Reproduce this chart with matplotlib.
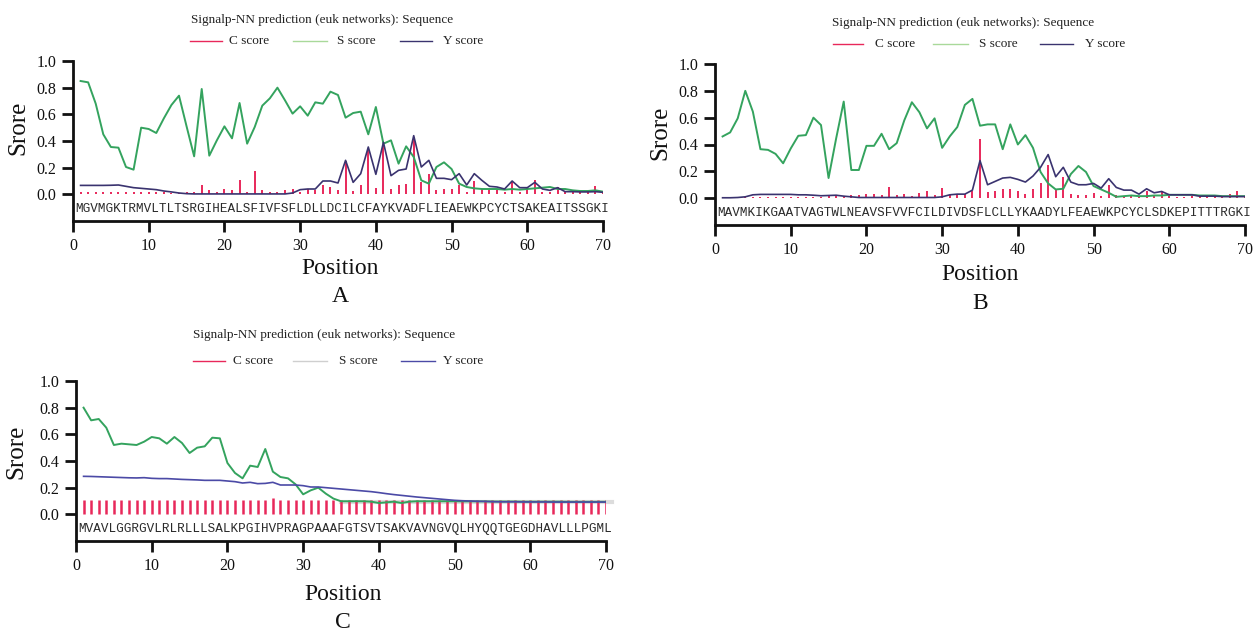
import matplotlib
matplotlib.use('Agg')
import matplotlib.pyplot as plt
from matplotlib.lines import Line2D
import numpy as np

plt.rcParams['font.family'] = ['Liberation Serif', 'DejaVu Serif']

# ---------------- data ----------------
positions = list(range(1, 71))
x_ticks = [0, 10, 20, 30, 40, 50, 60, 70]
y_ticks = [0.0, 0.2, 0.4, 0.6, 0.8, 1.0]
y_tick_labels = ['0.0', '0.2', '0.4', '0.6', '0.8', '1.0']

title_text = 'Signalp-NN prediction (euk networks): Sequence'
legend_labels = ['C score', 'S score', 'Y score']
panel_letters = ['A', 'B', 'C']

seq_A = 'MGVMGKTRMVLTLTSRGIHEALSFIVFSFLDLLDCILCFAYKVADFLIEAEWKPCYCTSAKEAITSSGKI'
seq_B = 'MAVMKIKGAATVAGTWLNEAVSFVVFCILDIVDSFLCLLYKAADYLFEAEWKPCYCLSDKEPITTTRGKI'
seq_C = 'MVAVLGGRGVLRLRLLLSALKPGIHVPRAGPAAAFGTSVTSAKVAVNGVQLHYQQTGEGDHAVLLLPGML'

C_A = [0.015, 0.02, 0.015, 0.02, 0.015, 0.02, 0.015, 0.02, 0.015, 0.02,
       0.015, 0.015, 0.01, 0.01, 0.015, 0.02, 0.07, 0.03, 0.02, 0.04,
       0.03, 0.11, 0.02, 0.175, 0.03, 0.02, 0.02, 0.03, 0.04, 0.02,
       0.04, 0.03, 0.07, 0.055, 0.03, 0.25, 0.025, 0.07, 0.34, 0.05,
       0.37, 0.04, 0.07, 0.08, 0.43, 0.09, 0.155, 0.03, 0.04, 0.04,
       0.07, 0.02, 0.10, 0.04, 0.03, 0.03, 0.02, 0.10, 0.02, 0.05,
       0.11, 0.02, 0.02, 0.055, 0.02, 0.02, 0.02, 0.02, 0.06, 0.015]
S_A = [0.85, 0.84, 0.68, 0.45, 0.355, 0.35, 0.205, 0.185, 0.50, 0.49,
       0.46, 0.57, 0.67, 0.74, 0.51, 0.285, 0.79, 0.29, 0.405, 0.51,
       0.42, 0.685, 0.38, 0.505, 0.665, 0.72, 0.80, 0.705, 0.605, 0.66,
       0.59, 0.69, 0.68, 0.77, 0.745, 0.575, 0.61, 0.62, 0.45, 0.655,
       0.38, 0.405, 0.23, 0.36, 0.28, 0.105, 0.08, 0.205, 0.24, 0.19,
       0.08, 0.055, 0.045, 0.04, 0.04, 0.04, 0.035, 0.04, 0.035, 0.04,
       0.045, 0.05, 0.055, 0.04, 0.04, 0.03, 0.025, 0.025, 0.03, 0.02]
Y_A = [0.067, 0.067, 0.067, 0.067, 0.068, 0.07, 0.06, 0.05, 0.045, 0.04,
       0.035, 0.025, 0.018, 0.01, 0.005, 0.003, 0.003, 0.003, 0.003, 0.003,
       0.003, 0.003, 0.003, 0.003, 0.003, 0.003, 0.003, 0.003, 0.01, 0.035,
       0.04, 0.04, 0.10, 0.10, 0.085, 0.255, 0.09, 0.155, 0.355, 0.15,
       0.39, 0.14, 0.18, 0.19, 0.44, 0.205, 0.255, 0.12, 0.12, 0.11,
       0.155, 0.07, 0.155, 0.105, 0.06, 0.055, 0.04, 0.10, 0.05, 0.05,
       0.09, 0.04, 0.03, 0.05, 0.02, 0.02, 0.018, 0.018, 0.02, 0.015]

C_B = [0.005, 0.005, 0.005, 0.008, 0.01, 0.01, 0.008, 0.01, 0.008, 0.01,
       0.008, 0.01, 0.008, 0.01, 0.02, 0.015, 0.01, 0.025, 0.025, 0.03,
       0.03, 0.02, 0.08, 0.02, 0.03, 0.015, 0.04, 0.055, 0.02, 0.075,
       0.02, 0.03, 0.03, 0.05, 0.44, 0.045, 0.05, 0.065, 0.065, 0.05,
       0.03, 0.065, 0.11, 0.25, 0.065, 0.155, 0.03, 0.025, 0.025, 0.04,
       0.015, 0.095, 0.025, 0.015, 0.015, 0.015, 0.05, 0.015, 0.05, 0.015,
       0.01, 0.01, 0.015, 0.02, 0.01, 0.01, 0.015, 0.03, 0.05, 0.01]
S_B = [0.46, 0.49, 0.595, 0.80, 0.645, 0.365, 0.36, 0.33, 0.26, 0.37,
       0.465, 0.47, 0.60, 0.545, 0.15, 0.445, 0.72, 0.21, 0.21, 0.39,
       0.39, 0.48, 0.365, 0.41, 0.58, 0.715, 0.64, 0.52, 0.595, 0.375,
       0.46, 0.53, 0.695, 0.74, 0.54, 0.55, 0.55, 0.365, 0.55, 0.40,
       0.47, 0.375, 0.195, 0.11, 0.065, 0.07, 0.18, 0.24, 0.195, 0.09,
       0.065, 0.04, 0.01, 0.015, 0.02, 0.015, 0.015, 0.02, 0.02, 0.025,
       0.025, 0.025, 0.025, 0.02, 0.02, 0.02, 0.015, 0.015, 0.015, 0.015]
Y_B = [0.003, 0.003, 0.005, 0.01, 0.025, 0.028, 0.028, 0.028, 0.028, 0.028,
       0.025, 0.025, 0.022, 0.018, 0.02, 0.022, 0.015, 0.01, 0.005, 0.005,
       0.005, 0.005, 0.005, 0.005, 0.005, 0.005, 0.005, 0.005, 0.005, 0.01,
       0.025, 0.03, 0.03, 0.06, 0.28, 0.10, 0.125, 0.15, 0.155, 0.14,
       0.12, 0.165, 0.23, 0.325, 0.16, 0.23, 0.12, 0.10, 0.10, 0.11,
       0.075, 0.145, 0.08, 0.06, 0.06, 0.03, 0.07, 0.04, 0.05, 0.025,
       0.025, 0.025, 0.025, 0.015, 0.015, 0.015, 0.012, 0.012, 0.012, 0.012]

C_C = [0.105, 0.105, 0.105, 0.105, 0.105, 0.105, 0.105, 0.105, 0.11, 0.105,
       0.105, 0.105, 0.105, 0.105, 0.105, 0.105, 0.105, 0.105, 0.105, 0.105,
       0.105, 0.105, 0.105, 0.105, 0.105, 0.12, 0.105, 0.105, 0.11, 0.11,
       0.105, 0.105, 0.105, 0.105, 0.105, 0.105, 0.105, 0.105, 0.105, 0.105,
       0.105, 0.105, 0.105, 0.105, 0.105, 0.105, 0.105, 0.105, 0.105, 0.105,
       0.105, 0.105, 0.105, 0.105, 0.105, 0.105, 0.105, 0.105, 0.105, 0.105,
       0.105, 0.105, 0.105, 0.105, 0.105, 0.105, 0.105, 0.105, 0.105, 0.105]
S_C = [0.80, 0.705, 0.715, 0.65, 0.52, 0.53, 0.525, 0.52, 0.545, 0.58,
       0.57, 0.53, 0.58, 0.535, 0.46, 0.50, 0.51, 0.575, 0.57, 0.385,
       0.31, 0.27, 0.365, 0.355, 0.49, 0.32, 0.28, 0.27, 0.225, 0.15,
       0.18, 0.20, 0.155, 0.118, 0.098, 0.098, 0.098, 0.098, 0.095, 0.085,
       0.09, 0.095, 0.085, 0.095, 0.098, 0.098, 0.098, 0.098, 0.098, 0.098,
       0.097, 0.097, 0.097, 0.097, 0.096, 0.096, 0.096, 0.096, 0.095, 0.095,
       0.095, 0.095, 0.095, 0.095, 0.094, 0.094, 0.094, 0.094, 0.094, 0.094]
Y_C = [0.285, 0.284, 0.282, 0.28, 0.278, 0.276, 0.274, 0.273, 0.275, 0.27,
       0.268, 0.268, 0.265, 0.262, 0.26, 0.258, 0.255, 0.255, 0.255, 0.25,
       0.245, 0.235, 0.24, 0.23, 0.232, 0.24, 0.22, 0.22, 0.22, 0.215,
       0.205, 0.205, 0.20, 0.195, 0.19, 0.185, 0.18, 0.175, 0.17, 0.163,
       0.155, 0.148, 0.142, 0.136, 0.13, 0.125, 0.12, 0.115, 0.11, 0.105,
       0.102, 0.10, 0.098, 0.097, 0.095, 0.094, 0.094, 0.094, 0.093, 0.093,
       0.093, 0.093, 0.092, 0.092, 0.092, 0.092, 0.092, 0.092, 0.092, 0.092]

# ---------------- style / layout ----------------
W, H = 1256, 630
RED = '#e8285a'
GREEN = '#34a35e'
NAVY = '#3a336f'
BLUE = '#4b4aa6'
LEG_S_GREEN = '#a9d99a'
LEG_S_GREY = '#cfcfcf'

def fx(px):
    return px / W

def fy(py):
    return 1 - py / H

panels = [
    dict(seq=seq_A, C=C_A, S=S_A, Y=Y_A, left=73, right=603, top=61, bottom=221,
         title=(322, 20), leg_y=41, leg=[(190, 222, 229), (293, 327, 337), (400, 432, 443)],
         xlab=(340, 269), letter=(340, 297), ylab=(18, 128), ycol=NAVY, scol=LEG_S_GREEN, lw_bar=1.4),
    dict(seq=seq_B, C=C_B, S=S_B, Y=Y_B, left=715, right=1245, top=64, bottom=225,
         title=(963, 23), leg_y=44, leg=[(833, 863, 875), (933, 968, 979), (1040, 1073, 1085)],
         xlab=(980, 275), letter=(980, 303), ylab=(660, 133), ycol=NAVY, scol=LEG_S_GREEN, lw_bar=1.4),
    dict(seq=seq_C, C=C_C, S=S_C, Y=Y_C, left=76, right=606, top=381, bottom=541,
         title=(324, 335), leg_y=361, leg=[(193, 225, 233), (293, 327, 339), (401, 435, 443)],
         xlab=(343, 594), letter=(343, 622), ylab=(16, 452), ycol=BLUE, scol=LEG_S_GREY, lw_bar=1.8),
]

fig = plt.figure(figsize=(W / 100, H / 100), dpi=100)

for k, p in enumerate(panels):
    ax = fig.add_axes([fx(p['left']), fy(p['bottom']),
                       (p['right'] - p['left']) / W, (p['bottom'] - p['top']) / H])
    ax.set_xlim(0, 70)
    ax.set_ylim(-0.2, 1.0)
    ax.patch.set_alpha(0)

    ax.vlines(positions, 0, p['C'], color=RED, lw=p['lw_bar'], zorder=2)
    ax.plot(positions, p['S'], color=GREEN, lw=1.4, zorder=3)
    ax.plot(positions, p['Y'], color=p['ycol'], lw=1.2, zorder=4)
    if k == 2:
        ax.plot([35, 70.8], [0.095, 0.095], color='#d4d4d4', lw=3.0, zorder=1, alpha=0.8, clip_on=False)

    ax.text(35.5, -0.11, p['seq'], family='Liberation Mono', fontsize=9.1,
            ha='center', va='center', color='#2a2a2a')

    for s in ['top', 'right']:
        ax.spines[s].set_visible(False)
    for s in ['left', 'bottom']:
        ax.spines[s].set_linewidth(2)
        ax.spines[s].set_color('#111111')
    ax.spines['left'].set_bounds(-0.2, 1.0)
    ax.set_yticks(y_ticks)
    ax.set_yticklabels(y_tick_labels)
    ax.set_xticks(x_ticks)
    ax.tick_params(direction='out', length=8, width=2, labelsize=11.5, colors='#111111', pad=4)

    fig.text(fx(p['title'][0]), fy(p['title'][1]), title_text, ha='center', va='center',
             fontsize=9.5, color='#222222')
    cols = [RED, p['scol'], p['ycol']]
    for (x0, x1, tx), lab, c in zip(p['leg'], legend_labels, cols):
        fig.add_artist(Line2D([fx(x0), fx(x1)], [fy(p['leg_y'])] * 2, color=c, lw=1.0,
                              transform=fig.transFigure))
        fig.text(fx(tx), fy(p['leg_y']), lab, ha='left', va='center', fontsize=9.5, color='#222222')

    fig.text(fx(p['xlab'][0]), fy(p['xlab'][1]), 'Position', ha='center', va='center',
             fontsize=17, color='#111111')
    fig.text(fx(p['letter'][0]), fy(p['letter'][1]), panel_letters[k], ha='center', va='center',
             fontsize=17, color='#111111')
    fig.text(fx(p['ylab'][0]), fy(p['ylab'][1]), 'Srore', ha='center', va='center',
             fontsize=18, rotation=90, color='#111111')

fig.savefig('out.png', dpi=100, facecolor='white')
